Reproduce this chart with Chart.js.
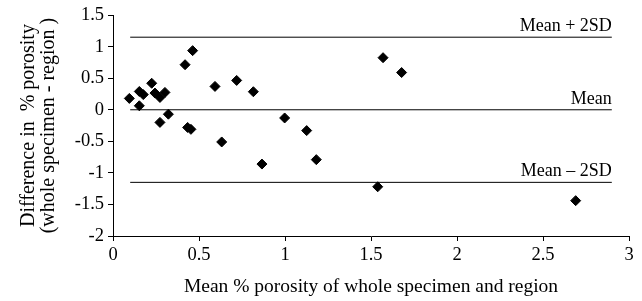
<!DOCTYPE html>
<html>
<head>
<meta charset="utf-8">
<script src="https://cdn.jsdelivr.net/npm/chart.js@4"></script>
<style>
  html, body { margin: 0; padding: 0; background: #fff; }
  #wrap { width: 642px; height: 301px; }
</style>
</head>
<body>
<div id="wrap"><canvas id="chart" width="642" height="301"></canvas></div>
<script>
// mean % porosity (x) and difference (y)
const meanPorosity = [0.095, 0.153, 0.153, 0.176, 0.225, 0.244, 0.273, 0.302, 0.273, 0.322,
  0.419, 0.463, 0.434, 0.453, 0.593, 0.632, 0.719, 0.816, 0.866, 0.998,
  1.126, 1.182, 1.539, 1.57, 1.678, 2.69];
const difference = [0.18, 0.063, 0.29, 0.24, 0.42, 0.265, 0.195, 0.275, -0.20, -0.07,
  0.714, 0.937, -0.28, -0.31, 0.37, -0.51, 0.465, 0.286, -0.86, -0.13,
  -0.33, -0.79, -1.22, 0.825, 0.59, -1.44];

// reference lines
const lineX = [0.1, 2.9];
const lineNames = ['Mean + 2SD', 'Mean', 'Mean \u2013 2SD'];
const lineValues = [1.15, 0, -1.15];

const xTicks = [0, 0.5, 1, 1.5, 2, 2.5, 3];
const yTicks = [-2, -1.5, -1, -0.5, 0, 0.5, 1, 1.5];

const font = 'Liberation Serif';
const fontSize = 18;

const points = meanPorosity.map((x, i) => ({ x: x, y: difference[i] }));

const refSets = lineValues.map((v, i) => ({
  type: 'line',
  label: lineNames[i],
  data: lineX.map(x => ({ x: x, y: v })),
  borderColor: '#000',
  borderWidth: 1,
  pointRadius: 0,
  fill: false
}));

// writes the line names just above the right end of each line
const lineLabels = {
  id: 'lineLabels',
  afterDatasetsDraw(chart) {
    const { ctx, scales } = chart;
    ctx.save();
    ctx.font = fontSize + 'px "' + font + '"';
    ctx.fillStyle = '#000';
    ctx.textAlign = 'right';
    ctx.textBaseline = 'bottom';
    lineValues.forEach((v, i) => {
      ctx.fillText(lineNames[i], scales.x.getPixelForValue(lineX[1]), scales.y.getPixelForValue(v) - 2);
    });
    ctx.restore();
  }
};

const plain = v => String(v);

new Chart(document.getElementById('chart'), {
  type: 'scatter',
  data: {
    datasets: [{
      label: 'Difference',
      data: points,
      backgroundColor: '#000',
      borderColor: '#000',
      pointStyle: 'rectRot',
      pointRadius: 5,
      pointHoverRadius: 5
    }].concat(refSets)
  },
  options: {
    responsive: false,
    animation: false,
    layout: { padding: { top: 15, right: 13, left: 0, bottom: 0 } },
    plugins: { legend: { display: false }, tooltip: { enabled: false } },
    scales: {
      x: {
        type: 'linear',
        min: 0, max: 3,
        afterBuildTicks: s => { s.ticks = xTicks.map(v => ({ value: v })); },
        afterFit: s => { s.height = 65; },
        grid: { drawOnChartArea: false, color: '#000', tickLength: 5 },
        border: { color: '#000', width: 1 },
        ticks: { color: '#000', font: { family: font, size: 18.5 }, padding: 3, maxRotation: 0, callback: plain },
        title: {
          display: true,
          text: 'Mean % porosity of whole specimen and region',
          color: '#000',
          font: { family: font, size: 19.5 },
          padding: { top: 4, bottom: 2 }
        }
      },
      y: {
        type: 'linear',
        min: -2, max: 1.5,
        afterBuildTicks: s => { s.ticks = yTicks.map(v => ({ value: v })); },
        afterFit: s => { s.width = 113; },
        grid: { drawOnChartArea: false, color: '#000', tickLength: 5 },
        border: { color: '#000', width: 1 },
        ticks: { color: '#000', font: { family: font, size: 18.5 }, padding: 4, callback: plain },
        title: {
          display: true,
          text: ['Difference in  % porosity', '(whole specimen - region )'],
          color: '#000',
          font: { family: font, size: 20, lineHeight: 1.0 },
          padding: { top: 19, bottom: 4 }
        }
      }
    }
  },
  plugins: [lineLabels]
});
</script>
</body>
</html>
